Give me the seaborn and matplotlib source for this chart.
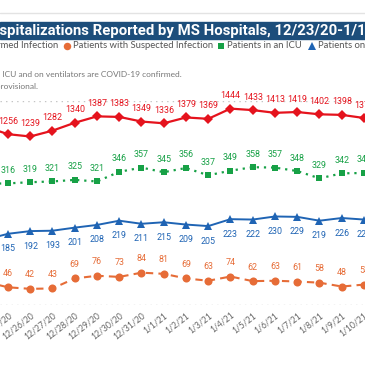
import numpy as np
import pandas as pd
import matplotlib
matplotlib.use("Agg")
import matplotlib.pyplot as plt
import seaborn as sns
from matplotlib.lines import Line2D
from matplotlib.patches import Rectangle

# values (12/24 and the 1/10 tail are partly cut off, so estimated)
dates = ["12/24/20", "12/25/20", "12/26/20", "12/27/20", "12/28/20", "12/29/20",
         "12/30/20", "12/31/20", "1/1/21", "1/2/21", "1/3/21", "1/4/21", "1/5/21",
         "1/6/21", "1/7/21", "1/8/21", "1/9/21", "1/10/21"]
confirmed = [1310, 1256, 1239, 1282, 1340, 1387, 1383, 1349, 1336, 1379,
             1369, 1444, 1433, 1413, 1419, 1402, 1398, 1375]
suspected = [60, 46, 42, 43, 69, 76, 73, 84, 81, 69, 63, 74, 62, 63, 61, 58, 48, 53]
icu = [315, 316, 319, 321, 325, 321, 346, 357, 345, 356, 337, 349, 358, 357, 348, 329, 342, 343]
ventilators = [170, 185, 192, 193, 201, 208, 219, 211, 215, 209, 205, 223, 222, 230, 229, 219, 226, 222]

legend_labels = ["Patients with Confirmed Infection", "Patients with Suspected Infection",
                 "Patients in an ICU", "Patients on Ventilators"]
title = "COVID-19 Hospitalizations Reported by MS Hospitals, 12/23/20-1/11/21"
note1 = "Note: All patients in the ICU and on ventilators are COVID-19 confirmed."
note2 = "Data for the most recent days are provisional."

RED, ORANGE, GREEN, BLUE = "#E5131D", "#E66C37", "#17A146", "#1F64B4"
NAVY = "#1D4E7B"
W = H = 365
STEP = 22.25  # pixels between days

sns.set_style("white")
num_font = ["Liberation Sans Narrow", "Roboto", "DejaVu Sans"]
ui_font = ["Lato", "DejaVu Sans"]

df = pd.DataFrame({"date": dates, "confirmed": confirmed, "suspected": suspected,
                   "icu": icu, "ventilators": ventilators})
df["pos"] = range(len(df))

fig = plt.figure(figsize=(W / 100, H / 100), dpi=100)
renderer = fig.canvas.get_renderer()

ax = fig.add_axes([0, (H - 305) / H, 1, 204 / H])
ax2 = ax.twinx()

series = [
    ("confirmed", RED, "D", 5.5, "-", 1.6, ax, 13),
    ("suspected", ORANGE, "o", 5.8, (0, (3.5, 2.5)), 1.5, ax2, 14),
    ("icu", GREEN, "s", 4.6, (0, (1, 2.2)), 1.6, ax2, 13),
    ("ventilators", BLUE, "^", 6, "-", 1.4, ax2, -15),
]
for col, color, marker, ms, ls, lw, target, dy in series:
    sns.lineplot(data=df, x="pos", y=col, ax=target, color=color, marker=marker,
                 markersize=ms, markeredgewidth=0, linestyle=ls, linewidth=lw, sort=False)
    for x, v in zip(df["pos"], df[col]):
        target.annotate(str(v), (x, v), xytext=(0, dy), textcoords="offset pixels",
                        ha="center", va="center", color=color, fontsize=6.4, family=num_font)

ax.set_xticks(df["pos"])
ax.set_xticklabels(dates, rotation=38, ha="right", rotation_mode="anchor",
                   fontsize=6.2, color="#666666", family=ui_font)
ax.tick_params(axis="x", length=0, pad=4)
# crop the view the way the screenshot does: 12/25 sits 8 px from the left edge
ax.set_xlim(1 - 8 / STEP, 1 + (W - 8) / STEP)
ax.set_ylim(0, 1500)
ax2.set_ylim(0, 530)
ax.set_yticks([0, 1500])
ax.tick_params(axis="y", length=0, labelleft=False)
ax2.set_yticks([])
ax.grid(axis="y", linestyle=(0, (1, 3)), color="#C4C4C4", linewidth=1)
ax.grid(axis="x", visible=False)
for a in (ax, ax2):
    a.set_xlabel("")
    a.set_ylabel("")
    for s in a.spines.values():
        s.set_visible(False)


def width_px(s, **kw):
    t = fig.text(0, 0, s, **kw)
    w = t.get_window_extent(renderer).width
    t.remove()
    return w


def put_text(full, start, x, y, **kw):
    # left edge of `start` lands on pixel x, whatever comes before runs off the canvas
    lead = width_px(full[:full.index(start)] + start, **kw) - width_px(start, **kw)
    fig.text((x - lead) / W, 1 - y / H, full, ha="left", va="center", **kw)


def fit(sample, target, **kw):
    return 10 * target / width_px(sample, fontsize=10, **kw)


# frame line and title bar
fig.add_artist(Line2D([0, 1], [1 - 12.5 / H] * 2, transform=fig.transFigure, color="#E3E3E3", lw=1))
fig.add_artist(Rectangle((0, 1 - 38.5 / H), 1, 16 / H, transform=fig.transFigure,
                         color=NAVY, zorder=1))
tkw = dict(family=["Roboto", "DejaVu Sans"], weight="bold", color="white")
tkw["fontsize"] = fit("spitalizations Reported by MS Hospitals, 12/23/20-1/1", 365, **tkw)
put_text(title, "spitalizations", 0, 30.5, **tkw)

# legend row
lkw = dict(family=ui_font, color="#555555")
lkw["fontsize"] = fit(legend_labels[1], 140, **lkw)
put_text(legend_labels[0], "med Infection", 0.5, 46, **lkw)
for label, color, marker, ms, mx, tx in [
        (legend_labels[1], ORANGE, "o", 5.4, 66.5, 73),
        (legend_labels[2], GREEN, "s", 4.7, 221, 227),
        (legend_labels[3], BLUE, "^", 5.8, 312, 318)]:
    fig.add_artist(Line2D([mx / W], [1 - 46 / H], transform=fig.transFigure, marker=marker,
                          markersize=ms, color=color, markeredgewidth=0, linestyle="none"))
    put_text(label, label, tx, 46, **lkw)

# notes
nkw = dict(family=ui_font, color="#777777")
nkw["fontsize"] = fit("ICU and on ventilators are COVID-19 confirmed.", 180, **nkw)
put_text(note1, "ICU and", 2, 74, **nkw)
put_text(note2, "rovisional.", 0, 87, **nkw)

fig.savefig("out.png", dpi=100)
